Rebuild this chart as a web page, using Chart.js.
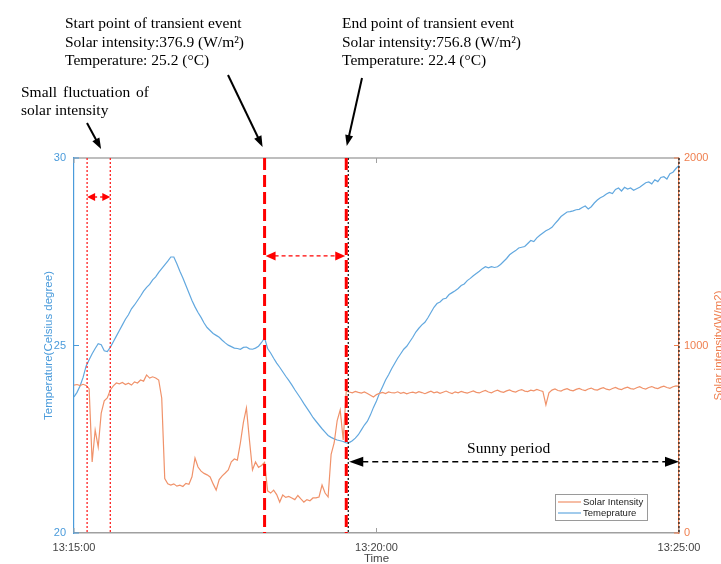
<!DOCTYPE html>
<html>
<head>
<meta charset="utf-8">
<script src="https://cdn.jsdelivr.net/npm/chart.js@4.4.1/dist/chart.umd.min.js"></script>
<style>
  html, body { margin: 0; padding: 0; background: #ffffff; overflow: hidden; }
  canvas { display: block; }
</style>
</head>
<body>
<canvas id="c" width="721" height="564"></canvas>
<script>
// Samples every 3 seconds starting at 13:15:00
const sampleStep = 3;

// Temperature (Celsius degree)
const tempValues = [
  23.63, 23.75, 23.92, 24.15, 24.45, 24.62, 24.78, 24.92, 25.05, 25.02,
  24.86, 24.84, 24.95, 25.1, 25.25, 25.4, 25.55, 25.7, 25.82, 25.98,
  26.08, 26.2, 26.32, 26.45, 26.55, 26.63, 26.75, 26.83, 26.95, 27.05,
  27.15, 27.25, 27.36, 27.36, 27.18, 26.98, 26.8, 26.6, 26.4, 26.2,
  26.03, 25.88, 25.75, 25.6, 25.48, 25.4, 25.32, 25.27, 25.22, 25.14,
  25.07, 25.01, 24.97, 24.93, 24.92, 24.9, 24.95, 24.96, 24.91, 24.9,
  24.93, 24.98, 25.08, 25.2, 24.92, 24.8, 24.66, 24.53, 24.42, 24.3,
  24.18, 24.07, 23.95, 23.82, 23.7, 23.58, 23.45, 23.33, 23.21, 23.08,
  22.98, 22.88, 22.78, 22.69, 22.6, 22.55, 22.51, 22.48, 22.46, 22.44,
  22.4, 22.41, 22.46, 22.53, 22.62, 22.75, 22.88, 22.98, 23.15, 23.35,
  23.52, 23.73, 23.9, 24.08, 24.22, 24.38, 24.52, 24.66, 24.78, 24.9,
  24.98, 25.1, 25.22, 25.36, 25.46, 25.55, 25.62, 25.74, 25.88, 26.02,
  26.12, 26.16, 26.24, 26.26, 26.36, 26.41, 26.46, 26.52, 26.6, 26.64,
  26.73, 26.79, 26.86, 26.92, 26.98, 27.05, 27.1, 27.07, 27.1, 27.08,
  27.1, 27.16, 27.24, 27.32, 27.42, 27.48, 27.53, 27.6, 27.62, 27.64,
  27.72, 27.8, 27.77, 27.87, 27.94, 28.0, 28.06, 28.1, 28.15, 28.25,
  28.34, 28.44, 28.5, 28.56, 28.57, 28.59, 28.62, 28.63, 28.68, 28.72,
  28.64, 28.7, 28.8, 28.88, 28.94, 28.98, 29.04, 29.08, 29.05, 29.16,
  29.2, 29.12, 29.22, 29.17, 29.2, 29.14, 29.18, 29.22, 29.28, 29.34,
  29.36, 29.31, 29.42, 29.37, 29.48, 29.5, 29.44, 29.58, 29.62, 29.72,
  29.8
];

// Solar intensity (W/m2)
const solarValues = [
  789, 792, 786, 793, 787, 770, 379, 549, 459, 640,
  705, 720, 763, 785, 800, 796, 803, 792, 799, 789,
  806, 800, 816, 810, 843, 826, 833, 827, 816, 720,
  290, 262, 256, 262, 250, 255, 248, 265, 260, 300,
  400, 352, 330, 318, 310, 299, 262, 229, 285, 305,
  320, 336, 380, 395, 389, 480, 590, 667, 496, 336,
  379, 350, 360, 376.9, 225, 213, 229, 205, 165, 203,
  190, 195, 187, 178, 200, 182, 165, 178, 172, 187,
  187, 192, 256, 213, 192, 420, 480, 600, 656, 496,
  756.8, 752, 748, 755, 750, 746, 752, 744, 735, 725,
  738, 745, 750, 744, 752, 748, 747, 753, 745, 750,
  742, 748, 751, 746, 754, 749, 743, 750, 756, 748,
  752, 745, 751, 757, 749, 744, 753, 748, 755, 750,
  746, 752, 758, 750, 747, 755, 760, 752, 748, 756,
  762, 754, 750, 758, 763, 755, 752, 760, 765, 757,
  754, 762, 758, 766, 760, 755, 683, 748, 762, 768,
  760, 757, 765, 770, 762, 758, 766, 771, 764, 760,
  768, 773, 765, 762, 770, 775, 767, 763, 771, 776,
  769, 765, 773, 778, 770, 767, 775, 780, 772, 768,
  776, 781, 774, 770, 778, 783, 776, 772, 780, 785,
  782
];

// Axis ticks
const timeTicks = [0, 300, 600];          // seconds after 13:15:00
const tempTicks = [20, 25, 30];
const solarTicks = [0, 1000, 2000];

// Event markers (seconds after 13:15:00)
const fluctStart = 13, fluctEnd = 36;
const eventStart = 189, eventEnd = 270;
const sunnyStart = 272, sunnyEnd = 600;

const startTemp = tempValues[eventStart / sampleStep];
const startSolar = solarValues[eventStart / sampleStep];
const endTemp = tempValues[eventEnd / sampleStep];
const endSolar = solarValues[eventEnd / sampleStep];

const BLUE = '#62a8df';
const BLUE_TEXT = '#4a9bdb';
const ORANGE = '#f0926a';
const ORANGE_TEXT = '#ef7f4f';
const SANS = '"Liberation Sans", Arial, sans-serif';
const SERIF = '"Liberation Serif", "Times New Roman", serif';

function fmtTime(v) {
  const total = 13 * 3600 + 15 * 60 + v;
  const h = Math.floor(total / 3600);
  const m = Math.floor((total % 3600) / 60);
  const s = Math.round(total % 60);
  const p = n => String(n).padStart(2, '0');
  return h + ':' + p(m) + ':' + p(s);
}

function arrowHead(ctx, fx, fy, tx, ty, len, w, color) {
  const ang = Math.atan2(ty - fy, tx - fx);
  ctx.save();
  ctx.translate(tx, ty);
  ctx.rotate(ang);
  ctx.beginPath();
  ctx.moveTo(0, 0);
  ctx.lineTo(-len, -w / 2);
  ctx.lineTo(-len, w / 2);
  ctx.closePath();
  ctx.fillStyle = color;
  ctx.fill();
  ctx.restore();
}

function segment(ctx, x1, y1, x2, y2, color, width, dash) {
  ctx.save();
  ctx.beginPath();
  ctx.setLineDash(dash || []);
  ctx.strokeStyle = color;
  ctx.lineWidth = width;
  ctx.moveTo(x1, y1);
  ctx.lineTo(x2, y2);
  ctx.stroke();
  ctx.restore();
}

function doubleArrow(ctx, x1, x2, y, color, width, dash, len, w) {
  segment(ctx, x1 + len - 1, y, x2 - len + 1, y, color, width, dash);
  arrowHead(ctx, x2, y, x1, y, len, w, color);
  arrowHead(ctx, x1, y, x2, y, len, w, color);
}

const overlay = {
  id: 'overlay',
  afterDatasetsDraw(chart) {
    const { ctx, chartArea: a, scales } = chart;
    const x = scales.x, yT = scales.yT;

    // frame top edge and inward tick marks
    segment(ctx, a.left, a.top, a.right, a.top, '#a8a8a8', 1.5);
    timeTicks.forEach(v => {
      const px = x.getPixelForValue(v);
      segment(ctx, px, a.bottom, px, a.bottom - 5, '#a0a0a0', 1);
      segment(ctx, px, a.top, px, a.top + 5, '#a0a0a0', 1);
    });
    tempTicks.forEach(v => {
      const py = yT.getPixelForValue(v);
      segment(ctx, a.left, py, a.left + 5, py, BLUE_TEXT, 1);
    });
    solarTicks.forEach(v => {
      const py = scales.yS.getPixelForValue(v);
      segment(ctx, a.right, py, a.right - 5, py, ORANGE_TEXT, 1);
    });

    // small fluctuation markers
    const f1 = x.getPixelForValue(fluctStart), f2 = x.getPixelForValue(fluctEnd);
    segment(ctx, f1, a.top, f1, a.bottom, '#ff2020', 1.3, [2, 2]);
    segment(ctx, f2, a.top, f2, a.bottom, '#ff2020', 1.3, [2, 2]);
    doubleArrow(ctx, f1, f2, yT.getPixelForValue(28.96), '#ff0000', 1.3, [3, 3], 8, 8);

    // transient event markers
    const s1 = x.getPixelForValue(eventStart), s2 = x.getPixelForValue(eventEnd);
    const sun1 = x.getPixelForValue(sunnyStart), sun2 = x.getPixelForValue(sunnyEnd);
    segment(ctx, sun1, a.top, sun1, a.bottom, '#111111', 1.2, [2, 2]);
    segment(ctx, sun2, a.top, sun2, a.bottom, '#111111', 1.2, [2, 2]);
    segment(ctx, s1, a.top, s1, a.bottom, '#ff0000', 3, [12, 5]);
    segment(ctx, s2, a.top, s2, a.bottom, '#ff0000', 3, [12, 5]);
    doubleArrow(ctx, s1 + 1, s2 - 1, yT.getPixelForValue(27.39), '#ff0000', 1.2, [4, 3], 10, 9);

    // sunny period span
    doubleArrow(ctx, sun1 + 1, sun2, yT.getPixelForValue(21.9), '#000000', 1.3, [6, 4], 14, 10);
    ctx.save();
    ctx.font = '15.5px ' + SERIF;
    ctx.fillStyle = '#000';
    ctx.textAlign = 'center';
    ctx.textBaseline = 'alphabetic';
    ctx.fillText('Sunny period', (sun1 + sun2) / 2 - 5, yT.getPixelForValue(21.9) - 9);
    ctx.restore();

    // legend
    const lx = a.right - 124, ly = a.bottom - 39;
    ctx.save();
    ctx.fillStyle = '#ffffff';
    ctx.fillRect(lx, ly, 92, 26);
    ctx.strokeStyle = '#9a9a9a';
    ctx.lineWidth = 1;
    ctx.strokeRect(lx + 0.5, ly + 0.5, 92, 26);
    ctx.font = '9.5px ' + SANS;
    ctx.fillStyle = '#222';
    ctx.textBaseline = 'middle';
    chart.data.datasets.forEach((ds, i) => {
      const yy = ly + 8 + i * 11;
      segment(ctx, lx + 3, yy, lx + 26, yy, ds.borderColor, 1.2);
      ctx.fillText(ds.label, lx + 28, yy + 0.5);
    });
    ctx.restore();
  },
  afterDraw(chart) {
    const { ctx, chartArea: a, scales } = chart;
    const x = scales.x;
    const s1 = x.getPixelForValue(eventStart), s2 = x.getPixelForValue(eventEnd);
    const f1 = x.getPixelForValue(fluctStart);

    ctx.save();
    // axis titles
    ctx.font = '11.5px ' + SANS;
    ctx.textAlign = 'center';
    ctx.textBaseline = 'middle';
    ctx.fillStyle = '#444444';
    ctx.fillText('Time', (a.left + a.right) / 2, 559);
    ctx.save();
    ctx.translate(49, (a.top + a.bottom) / 2);
    ctx.rotate(-Math.PI / 2);
    ctx.fillStyle = BLUE_TEXT;
    ctx.fillText('Temperature(Celsius degree)', 0, 0);
    ctx.restore();
    ctx.save();
    ctx.translate(719, (a.top + a.bottom) / 2);
    ctx.rotate(-Math.PI / 2);
    ctx.fillStyle = ORANGE_TEXT;
    ctx.fillText('Solar intensity(W/m2)', 0, 0);
    ctx.restore();

    // event descriptions
    ctx.font = '15.5px ' + SERIF;
    ctx.fillStyle = '#000';
    ctx.textAlign = 'left';
    ctx.textBaseline = 'alphabetic';
    ctx.fillText('Start point of transient event', 65, 28);
    ctx.fillText('Solar intensity:' + startSolar + ' (W/m\u00B2)', 65, 47);
    ctx.fillText('Temperature: ' + startTemp + ' (\u00B0C)', 65, 65);
    ctx.fillText('End point of transient event', 342, 28);
    ctx.fillText('Solar intensity:' + endSolar + ' (W/m\u00B2)', 342, 47);
    ctx.fillText('Temperature: ' + endTemp + ' (\u00B0C)', 342, 65);
    ctx.fillText('Small', 21, 97);
    ctx.fillText('fluctuation', 63, 97);
    ctx.fillText('of', 136, 97);
    ctx.fillText('solar intensity', 21, 115);
    ctx.restore();

    // pointer arrows
    const arrows = [
      [87, 123, f1 + 14, a.top - 9],
      [228, 75, s1 - 2, a.top - 11],
      [362, 78, s2 + 0.5, a.top - 12]
    ];
    arrows.forEach(([x1, y1, x2, y2]) => {
      const ang = Math.atan2(y2 - y1, x2 - x1);
      segment(ctx, x1, y1, x2 - Math.cos(ang) * 8, y2 - Math.sin(ang) * 8, '#000', 2);
      arrowHead(ctx, x1, y1, x2, y2, 11, 8, '#000');
    });
  }
};

const tickFont = { family: SANS, size: 11 };

new Chart(document.getElementById('c'), {
  type: 'line',
  data: {
    datasets: [
      {
        label: 'Solar Intensity',
        data: solarValues.map((v, i) => ({ x: i * sampleStep, y: v })),
        yAxisID: 'yS',
        borderColor: ORANGE,
        borderWidth: 1.2,
        pointRadius: 0,
        tension: 0
      },
      {
        label: 'Temeprature',
        data: tempValues.map((v, i) => ({ x: i * sampleStep, y: v })),
        yAxisID: 'yT',
        borderColor: BLUE,
        borderWidth: 1.2,
        pointRadius: 0,
        tension: 0
      }
    ]
  },
  options: {
    responsive: false,
    animation: false,
    devicePixelRatio: 1,
    layout: { padding: { top: 158, left: 0, right: 0, bottom: 0 } },
    plugins: { legend: { display: false }, tooltip: { enabled: false } },
    scales: {
      x: {
        type: 'linear',
        min: 0,
        max: 600,
        afterBuildTicks: s => { s.ticks = timeTicks.map(v => ({ value: v })); },
        afterFit: s => { s.height = 31; },
        grid: { display: false, drawTicks: false },
        border: { display: true, color: '#a0a0a0', width: 1.5 },
        ticks: { padding: 8, color: '#444444', font: tickFont, callback: fmtTime, maxRotation: 0, autoSkip: false }
      },
      yT: {
        position: 'left',
        min: 20,
        max: 30,
        afterBuildTicks: s => { s.ticks = tempTicks.map(v => ({ value: v })); },
        afterFit: s => { s.width = 74; },
        grid: { display: false, drawTicks: false },
        border: { display: true, color: BLUE_TEXT, width: 1.2 },
        ticks: { padding: 8, color: BLUE_TEXT, font: tickFont, callback: v => String(v) }
      },
      yS: {
        position: 'right',
        min: 0,
        max: 2000,
        afterBuildTicks: s => { s.ticks = solarTicks.map(v => ({ value: v })); },
        afterFit: s => { s.width = 42; },
        grid: { display: false, drawTicks: false },
        border: { display: true, color: ORANGE_TEXT, width: 1.2 },
        ticks: { padding: 5, color: ORANGE_TEXT, font: tickFont, callback: v => String(v) }
      }
    }
  },
  plugins: [overlay]
});
</script>
</body>
</html>
